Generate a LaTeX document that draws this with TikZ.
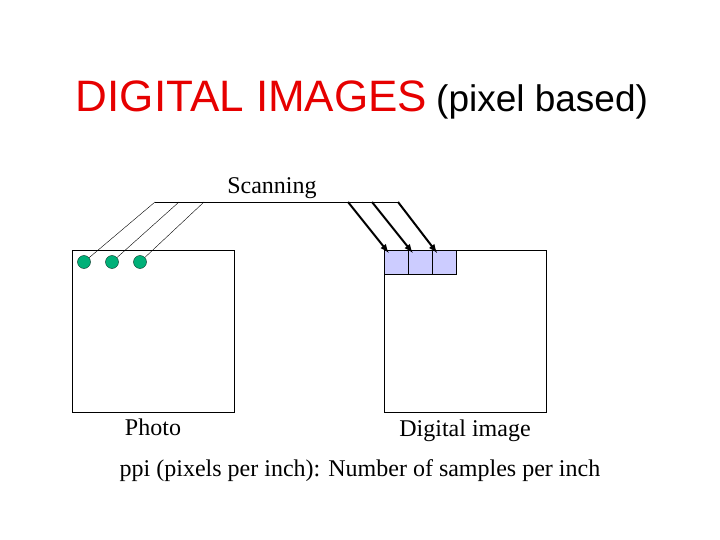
\documentclass[tikz,border=0pt]{standalone}
\usepackage{fontspec}
\setmainfont{Liberation Serif}
\newfontfamily\arialfont{Liberation Sans}
\definecolor{titlered}{RGB}{230,0,0}
\definecolor{dotgreen}{RGB}{0,176,120}
\definecolor{pixblue}{RGB}{204,204,255}

\tikzset{
	frame/.style={draw, thin, minimum width=162pt, minimum height=162pt, inner sep=0pt},
	dot/.style={circle, draw=black!70!dotgreen, fill=dotgreen, minimum size=13pt, inner sep=0pt},
	pixel/.style={draw, fill=pixblue, minimum width=24pt, minimum height=24pt, inner sep=0pt},
	ray/.style={thin},
	arrow/.style={-latex, line width=2pt, shorten >=-4pt},
	label/.style={font=\fontsize{24}{28}\selectfont, anchor=base, inner sep=0pt}
}

\begin{document}
\begin{tikzpicture}[x=1pt, y=-1pt]
\useasboundingbox (0,0) rectangle (720,540);

% title
\node (title) at (362,112) [anchor=base, inner sep=0pt, font=\arialfont]
  {\fontsize{44}{50}\selectfont\textcolor{titlered}{DIGITAL IMAGES}\hspace{9pt}\fontsize{37}{44}\selectfont(pixel based)};

% photo and digital image
\node (photo) at (153,331) [frame] {};
\node (digital) at (465.5,331) [frame] {};

\node (dot1) at (84,262) [dot] {};
\node (dot2) at (112,262) [dot] {};
\node (dot3) at (140,262) [dot] {};

\node (pix1) at (396,262) [pixel] {};
\node (pix2) at (420,262) [pixel] {};
\node (pix3) at (444,262) [pixel] {};

% scan line
\coordinate (scanL) at (155,202);
\coordinate (scanR) at (398,202);
\draw [ray] (scanL) -- (scanR);
\node (scanning) at (272,194) [label] {Scanning};

\coordinate (in1) at (155,202);
\coordinate (in2) at (179,202);
\coordinate (in3) at (204,202);
\draw [ray] (dot1) -- (in1);
\draw [ray] (dot2) -- (in2);
\draw [ray] (dot3) -- (in3);

\coordinate (out1) at (348,202);
\coordinate (out2) at (372,202);
\coordinate (out3) at (398,202);
\draw [arrow] (out1) -- (pix1);
\draw [arrow] (out2) -- (pix2);
\draw [arrow] (out3) -- (pix3);

% captions
\node (photolabel) at (153,435) [label] {Photo};
\node (digitallabel) at (465,436) [label] {Digital image};
\node (ppi) at (360,476) [label] {ppi (pixels per inch): Number of samples per inch};
\end{tikzpicture}
\end{document}
